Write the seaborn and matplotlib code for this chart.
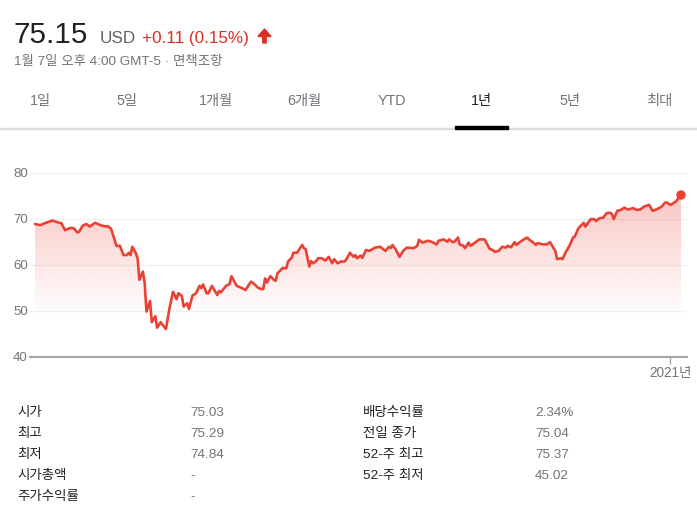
import numpy as np
import pandas as pd
import matplotlib
matplotlib.use('Agg')
import matplotlib.pyplot as plt
import matplotlib.dates as mdates
from matplotlib.patches import Polygon, Rectangle
from matplotlib.transforms import IdentityTransform
import seaborn as sns

# Quote header
price = '75.15'
currency = 'USD'
change = '+0.11 (0.15%)'
timestamp = '1월 7일 오후 4:00 GMT-5 · 면책조항'
tabs = ['1일', '5일', '1개월', '6개월', 'YTD', '1년', '5년', '최대']
active_tab = '1년'

# One year of closing prices
start_date = '2020-01-08'
day_offsets = [0, 3, 6, 10, 12, 15, 17, 20, 22, 24, 25, 27, 29, 31, 34, 37, 40, 41, 43, 45,
               46, 48, 50, 52, 53, 54, 55, 57, 58, 59, 61, 62, 63, 65, 66, 68, 69, 71, 73, 74,
               76, 78, 80, 81, 83, 84, 86, 87, 89, 91, 93, 94, 95, 97, 98, 100, 103, 104, 105, 108,
               110, 111, 114, 117, 119, 122, 123, 126, 128, 129, 130, 131, 133, 135, 136, 137, 140, 142, 143, 145,
               146, 148, 151, 152, 153, 155, 156, 157, 159, 160, 162, 164, 166, 168, 169, 171, 173, 175, 176, 178,
               180, 181, 182, 184, 185, 187, 189, 192, 195, 198, 200, 201, 202, 204, 206, 208, 210, 214, 216, 217,
               219, 222, 224, 227, 228, 231, 233, 234, 236, 237, 239, 240, 242, 243, 245, 246, 249, 251, 254, 255,
               257, 258, 260, 262, 264, 266, 267, 269, 271, 272, 275, 278, 280, 281, 283, 284, 287, 289, 291, 293,
               294, 295, 297, 298, 300, 302, 304, 305, 307, 310, 311, 314, 316, 317, 319, 321, 323, 325, 326, 327,
               329, 331, 333, 335, 338, 340, 342, 344, 347, 349, 351, 354, 356, 357, 359, 362, 365]
prices = [68.85, 68.6, 69.1, 69.6, 69.3, 69.0, 67.5, 68.0, 67.9, 67.0, 67.2, 68.5, 68.85, 68.3, 69.1, 68.6, 68.3, 68.4, 67.8, 65.4,
          64.1, 64.1, 62.1, 62.1, 62.6, 62.1, 63.9, 62.5, 61.4, 56.7, 58.5, 56.0, 49.8, 52.1, 47.5, 48.8, 46.3, 47.5, 46.5, 46.0,
          50.5, 54.1, 52.5, 53.8, 53.2, 50.9, 51.6, 50.4, 53.3, 53.8, 55.4, 54.9, 55.7, 53.8, 53.8, 55.4, 53.4, 54.3, 54.0, 55.4,
          55.8, 57.5, 55.4, 54.9, 54.5, 56.3, 56.1, 55.0, 54.7, 54.7, 57.0, 56.1, 57.5, 56.7, 56.5, 58.1, 59.3, 59.2, 60.7, 61.5,
          62.6, 62.6, 64.3, 63.6, 63.3, 59.6, 60.8, 60.3, 60.8, 61.4, 61.4, 60.9, 61.7, 60.3, 61.2, 60.3, 60.7, 60.7, 61.2, 62.6,
          61.7, 62.1, 61.4, 62.0, 61.5, 63.2, 63.0, 63.7, 63.9, 63.0, 63.9, 63.6, 64.3, 63.2, 61.7, 63.0, 63.7, 63.6, 64.1, 65.4,
          64.8, 65.2, 65.0, 64.4, 65.2, 65.5, 65.0, 65.5, 64.9, 65.0, 65.9, 64.4, 64.1, 63.6, 64.8, 64.1, 64.9, 65.5, 65.5, 64.8,
          63.4, 63.3, 62.8, 63.0, 63.9, 63.7, 64.1, 63.8, 64.9, 64.3, 65.2, 65.9, 65.2, 65.0, 64.3, 64.7, 64.4, 64.4, 64.9, 63.6,
          63.0, 61.2, 61.4, 61.2, 62.8, 64.1, 65.9, 66.1, 67.9, 69.1, 68.3, 69.9, 69.9, 69.5, 70.1, 70.2, 71.2, 71.3, 71.0, 69.9,
          71.7, 71.9, 72.4, 72.0, 72.3, 71.9, 72.0, 72.6, 73.0, 71.7, 72.0, 72.6, 73.5, 73.5, 73.0, 73.7, 75.15]
y_ticks = [40, 50, 60, 70, 80]
x_tick_date = '2021-01-01'
x_tick_label = '2021년'

# Key stats table
left_labels = ['시가', '최고', '최저', '시가총액', '주가수익률']
left_values = ['75.03', '75.29', '74.84', '-', '-']
right_labels = ['배당수익률', '전일 종가', '52-주 최고', '52-주 최저']
right_values = ['2.34%', '75.04', '75.37', '45.02']

RED = '#e94235'
GREY = '#70757a'
DARK = '#202124'
W, H = 697, 514

sns.set_theme(style='white')
plt.rcParams['font.family'] = ['Liberation Sans', 'Noto Sans CJK KR', 'DejaVu Sans']


def fx(x):
    return x / W


def fy(y):
    return 1 - y / H


fig = plt.figure(figsize=(W / 100, H / 100), dpi=100)

# header
fig.text(fx(14), fy(43), price, fontsize=21.3, color=DARK, va='baseline')
fig.text(fx(100), fy(43), currency, fontsize=12.3, color='#5f6368', va='baseline')
fig.text(fx(142), fy(43), change, fontsize=12.3, color='#d93025', va='baseline')
arrow = [(264.5, 29), (258, 36.5), (262.8, 36.5), (262.8, 43), (266.2, 43), (266.2, 36.5), (271, 36.5)]
fig.add_artist(Polygon([(x, H - y) for x, y in arrow], closed=True, color='#d93025',
                       transform=IdentityTransform()))
fig.text(fx(14), fy(64.5), timestamp, fontsize=9.7, color=GREY, va='baseline')

# tabs
tab_x = [40, 127, 216, 304, 392, 481, 570, 659]
for t, x in zip(tabs, tab_x):
    fig.text(fx(x), fy(101), t, fontsize=10.3, ha='center', va='center',
             color=DARK if t == active_tab else GREY)
fig.add_artist(Rectangle((0, H - 128.5), W, 1, color='#dadce0', transform=IdentityTransform()))
fig.add_artist(Rectangle((455, H - 128.7), 53, 3, color='black', transform=IdentityTransform()))

# chart
ax = fig.add_axes([fx(30), fy(356.7), 657 / W, 193.2 / H])
df = pd.DataFrame({
    'date': pd.Timestamp(start_date) + pd.to_timedelta(day_offsets, unit='D'),
    'price': prices,
})

ax.grid(axis='y', color='#f1f1f1', linewidth=1)
ax.set_axisbelow(True)
sns.lineplot(data=df, x='date', y='price', color=RED, linewidth=1.9, ax=ax, zorder=3)

# gradient fill under the line
xs = mdates.date2num(df['date'])
verts = [(xs[0], 40)] + list(zip(xs, df['price'])) + [(xs[-1], 40)]
clip = Polygon(verts, closed=True, facecolor='none', edgecolor='none', transform=ax.transData)
ax.add_patch(clip)
levels = np.linspace(40, 82, 256)
grad = np.zeros((256, 1, 4))
grad[..., :3] = matplotlib.colors.to_rgb(RED)
grad[:, 0, 3] = np.clip((levels - 49) / 26 * 0.3, 0, 0.32)
im = ax.imshow(grad, extent=[xs[0], xs[-1], 40, 82], origin='lower', aspect='auto', zorder=2)
im.set_clip_path(clip)

sns.scatterplot(x=[df['date'].iloc[-1]], y=[df['price'].iloc[-1]], s=46, color=RED,
                edgecolor='none', ax=ax, zorder=4)

start = pd.Timestamp(start_date)
ax.set_xlim(start - pd.Timedelta(days=2.8), start + pd.Timedelta(days=368.4))
ax.set_ylim(40, 82)
ax.set_yticks(y_ticks)
ax.set_yticklabels([str(v) for v in y_ticks])
ax.set_xticks([pd.Timestamp(x_tick_date)])
ax.set_xticklabels([x_tick_label])
ax.set(xlabel='', ylabel='')
for side in ['top', 'right', 'left']:
    ax.spines[side].set_visible(False)
ax.spines['bottom'].set_color('#a4a4ac')
ax.spines['bottom'].set_linewidth(1.5)
ax.tick_params(axis='y', length=0, pad=1.5, labelsize=9.5, labelcolor=GREY)
ax.tick_params(axis='x', length=5, width=1, color='#a4a4ac', pad=1.5, labelsize=9.8,
               labelcolor=GREY, bottom=True)

# stats table
row_y = [413.3, 434, 455, 476, 496.7]
for lab, val, y in zip(left_labels, left_values, row_y):
    fig.text(fx(17), fy(y), lab, fontsize=9.7, color=DARK, va='center')
    fig.text(fx(190), fy(y), val, fontsize=9.7, color=GREY, va='center')
for lab, val, y in zip(right_labels, right_values, row_y):
    fig.text(fx(363), fy(y), lab, fontsize=9.7, color=DARK, va='center')
    fig.text(fx(535), fy(y), val, fontsize=9.7, color=GREY, va='center')

fig.savefig('out.png', dpi=100)
